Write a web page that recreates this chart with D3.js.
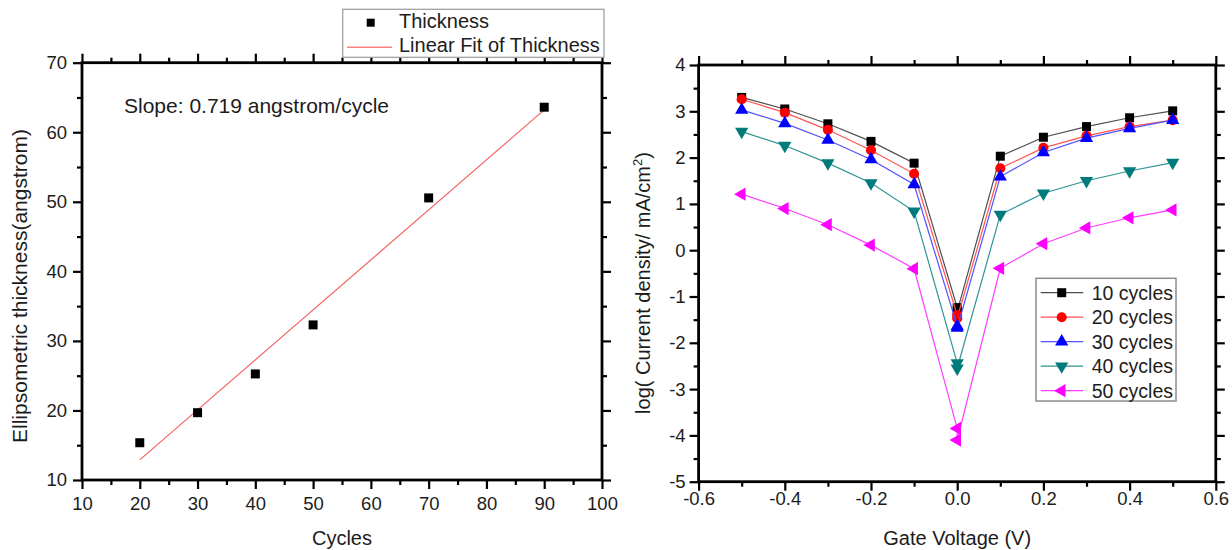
<!DOCTYPE html>
<html>
<head>
<meta charset="utf-8">
<script src="https://cdn.jsdelivr.net/npm/d3@7"></script>
<style>
  body { margin: 0; background: #fff; }
  svg { display: block; }
  text { font-family: "Liberation Sans", Arial, sans-serif; fill: #1c1c1c; }
</style>
</head>
<body>
<svg id="chart" width="1232" height="550"></svg>
<script>
// ---- Film thickness versus deposition cycles ----
const cycles = [20, 30, 40, 50, 70, 90];
const thickness = [15.36, 19.68, 25.25, 32.3, 50.56, 63.6];
const fitSlope = 0.719; // angstrom per cycle
const cycleTicks = [10, 20, 30, 40, 50, 60, 70, 80, 90, 100];
const cycleMinor = [15, 25, 35, 45, 55, 65, 75, 85, 95];
const thicknessTicks = [10, 20, 30, 40, 50, 60, 70];
const thicknessMinor = [15, 25, 35, 45, 55, 65];

// ---- Current density versus gate voltage ----
const gateVoltage = [-0.5, -0.4, -0.3, -0.2, -0.1, 0, 0, 0.1, 0.2, 0.3, 0.4, 0.5];
const seriesNames = ["10 cycles", "20 cycles", "30 cycles", "40 cycles", "50 cycles"];
const current10 = [3.30, 3.05, 2.73, 2.35, 1.88, -1.24, -1.32, 2.03, 2.44, 2.67, 2.86, 3.01];
const current20 = [3.26, 2.97, 2.60, 2.16, 1.65, -1.40, -1.47, 1.77, 2.21, 2.47, 2.67, 2.81];
const current30 = [3.03, 2.74, 2.38, 1.96, 1.42, -1.64, -1.68, 1.59, 2.11, 2.42, 2.63, 2.81];
const current40 = [2.56, 2.26, 1.88, 1.45, 0.84, -2.44, -2.55, 0.77, 1.23, 1.50, 1.71, 1.89];
const current50 = [1.21, 0.90, 0.55, 0.11, -0.40, -3.85, -4.10, -0.39, 0.14, 0.48, 0.70, 0.87];
const voltageTicks = [-0.6, -0.4, -0.2, 0, 0.2, 0.4, 0.6];
const voltageLabels = ["-0.6", "-0.4", "-0.2", "0.0", "0.2", "0.4", "0.6"];
const voltageMinor = [-0.5, -0.3, -0.1, 0.1, 0.3, 0.5];
const currentTicks = [-5, -4, -3, -2, -1, 0, 1, 2, 3, 4];
const currentLabels = ["-5", "-4", "-3", "-2", "-1", "0", "1", "2", "3", "4"];
const currentMinor = [-4.5, -3.5, -2.5, -1.5, -0.5, 0.5, 1.5, 2.5, 3.5];

const currentSeries = [current10, current20, current30, current40, current50];
const markerColors = ["#000000", "#ff0000", "#0000ff", "#007b7b", "#ff00ff"];
const lineColors = ["#4d4d4d", "#ff5252", "#5252ff", "#2e9494", "#ff3cff"];
const markerTypes = ["square", "circle", "triangle", "triangleDown", "triangleLeft"];

const svg = d3.select("#chart");
const FONT = '"Liberation Sans", Arial, sans-serif';

// Draws a boxed frame with outward major/minor ticks on all four sides
function drawFrame(x, y, o) {
  const g = svg.append("g");
  const [x0, x1] = x.range();
  const [y0, y1] = y.range();
  const style = sel => {
    sel.select(".domain").remove();
    sel.selectAll(".tick line").attr("stroke", "#000").attr("stroke-width", 2.2);
    sel.selectAll(".tick text").attr("font-family", FONT).attr("font-size", o.tickFont).attr("fill", "#1c1c1c");
    sel.attr("font-family", null).attr("font-size", null);
  };
  const sides = [
    [d3.axisBottom, x, `translate(0,${y0})`, o.xMajor, o.xMinor, o.xLabels, o.xPad],
    [d3.axisTop, x, `translate(0,${y1})`, o.xMajor, o.xMinor, null, 0],
    [d3.axisLeft, y, `translate(${x0},0)`, o.yMajor, o.yMinor, o.yLabels, o.yPad],
    [d3.axisRight, y, `translate(${x1},0)`, o.yMajor, o.yMinor, null, 0]
  ];
  sides.forEach(([axisFn, sc, tr, major, minor, labels, pad]) => {
    g.append("g").attr("transform", tr)
      .call(axisFn(sc).tickValues(major).tickSize(9).tickSizeOuter(0).tickPadding(pad)
        .tickFormat(labels ? (d, i) => labels[i] : ""))
      .call(style);
    g.append("g").attr("transform", tr)
      .call(axisFn(sc).tickValues(minor).tickSize(5).tickSizeOuter(0).tickFormat(""))
      .call(style);
  });
  g.append("rect")
    .attr("x", x0).attr("y", y1)
    .attr("width", x1 - x0).attr("height", y0 - y1)
    .attr("fill", "none").attr("stroke", "#000").attr("stroke-width", 2.8);
  return g;
}

// Marker path generator
function marker(type, size) {
  const base = {
    square: d3.symbolSquare, circle: d3.symbolCircle,
    triangle: d3.symbolTriangle, triangleDown: d3.symbolTriangle, triangleLeft: d3.symbolTriangle
  }[type];
  return d3.symbol().type(base).size(size)();
}
function markerRotation(type) {
  return type === "triangleDown" ? 180 : type === "triangleLeft" ? -90 : 0;
}
function markerSize(type) {
  return type === "square" ? 81 : type === "circle" ? 80 : 76;
}

// ================= Left panel =================
const xL = d3.scaleLinear().domain([10, 100]).range([82, 602]);
const yL = d3.scaleLinear().domain([10, 70]).range([480, 62.7]);

drawFrame(xL, yL, {
  xMajor: cycleTicks, xMinor: cycleMinor, xLabels: cycleTicks.map(String), xPad: 8,
  yMajor: thicknessTicks, yMinor: thicknessMinor, yLabels: thicknessTicks.map(String), yPad: 6,
  tickFont: 18.5
});

// Least-squares intercept for the stated slope
const meanC = d3.mean(cycles), meanT = d3.mean(thickness);
const fitIntercept = meanT - fitSlope * meanC;
const fitX = [d3.min(cycles), d3.max(cycles)];
svg.append("line")
  .attr("x1", xL(fitX[0])).attr("y1", yL(fitSlope * fitX[0] + fitIntercept))
  .attr("x2", xL(fitX[1])).attr("y2", yL(fitSlope * fitX[1] + fitIntercept))
  .attr("stroke", "#f46060").attr("stroke-width", 1.2);

svg.append("g").selectAll("path")
  .data(cycles.map((c, i) => [c, thickness[i]]))
  .join("path")
  .attr("d", marker("square", 81))
  .attr("transform", d => `translate(${xL(d[0])},${yL(d[1])})`)
  .attr("fill", "#000");

svg.append("text").attr("x", 124).attr("y", 113).attr("font-size", 21)
  .text("Slope: 0.719 angstrom/cycle");

svg.append("text").attr("x", xL(55)).attr("y", 545).attr("text-anchor", "middle")
  .attr("font-size", 20).text("Cycles");
svg.append("text").attr("transform", "translate(27,286) rotate(-90)")
  .attr("text-anchor", "middle").attr("font-size", 21)
  .text("Ellipsometric thickness(angstrom)");

// Legend of the left panel
const legL = svg.append("g");
legL.append("rect").attr("x", 342.7).attr("y", 9.3).attr("width", 261.3).attr("height", 48)
  .attr("fill", "#fff").attr("stroke", "#9a9a9a").attr("stroke-width", 1.2);
legL.append("path").attr("d", marker("square", 64))
  .attr("transform", "translate(370.7,22.7)").attr("fill", "#000");
legL.append("line").attr("x1", 347).attr("x2", 392).attr("y1", 47.3).attr("y2", 47.3)
  .attr("stroke", "#f88080").attr("stroke-width", 1.6);
legL.append("text").attr("x", 399).attr("y", 28.3).attr("font-size", 20).text("Thickness");
legL.append("text").attr("x", 399).attr("y", 52.3).attr("font-size", 20).text("Linear Fit of Thickness");

// ================= Right panel =================
const xR = d3.scaleLinear().domain([-0.6, 0.6]).range([698.6, 1215.8]);
const yR = d3.scaleLinear().domain([-5, 4]).range([481.7, 65]);

drawFrame(xR, yR, {
  xMajor: voltageTicks, xMinor: voltageMinor, xLabels: voltageLabels, xPad: 1,
  yMajor: currentTicks, yMinor: currentMinor, yLabels: currentLabels, yPad: 4,
  tickFont: 18.5
});

const lineGen = d3.line().x(d => xR(d[0])).y(d => yR(d[1]));
currentSeries.forEach((vals, s) => {
  const pts = gateVoltage.map((v, i) => [v, vals[i]]);
  const g = svg.append("g");
  g.append("path").attr("d", lineGen(pts)).attr("fill", "none")
    .attr("stroke", lineColors[s]).attr("stroke-width", 1.2);
  g.selectAll("path.m").data(pts).join("path").attr("class", "m")
    .attr("d", marker(markerTypes[s], markerSize(markerTypes[s])))
    .attr("transform", d => `translate(${xR(d[0])},${yR(d[1])}) rotate(${markerRotation(markerTypes[s])})`)
    .attr("fill", markerColors[s]);
});

svg.append("text").attr("x", xR(0)).attr("y", 545).attr("text-anchor", "middle")
  .attr("font-size", 20).text("Gate Voltage (V)");
const yTitle = svg.append("text").attr("transform", "translate(650,283) rotate(-90)")
  .attr("text-anchor", "middle").attr("font-size", 20);
yTitle.append("tspan").text("log( Current density/ mA/cm");
yTitle.append("tspan").attr("dy", -8).attr("font-size", 13).text("2");
yTitle.append("tspan").attr("dy", 8).text(")");

// Legend of the right panel
const legR = svg.append("g");
legR.append("rect").attr("x", 1036).attr("y", 278.3).attr("width", 140).attr("height", 122.7)
  .attr("fill", "#fff").attr("stroke", "#8c8c8c").attr("stroke-width", 1.5);
seriesNames.forEach((name, s) => {
  const cy = 292.7 + s * 24.5;
  legR.append("line").attr("x1", 1040.7).attr("x2", 1083.3).attr("y1", cy).attr("y2", cy)
    .attr("stroke", lineColors[s]).attr("stroke-width", 1.2);
  legR.append("path").attr("d", marker(markerTypes[s], markerSize(markerTypes[s])))
    .attr("transform", `translate(1061.7,${cy}) rotate(${markerRotation(markerTypes[s])})`)
    .attr("fill", markerColors[s]);
  legR.append("text").attr("x", 1091.7).attr("y", cy + 7).attr("font-size", 19.5).text(name);
});
</script>
</body>
</html>
